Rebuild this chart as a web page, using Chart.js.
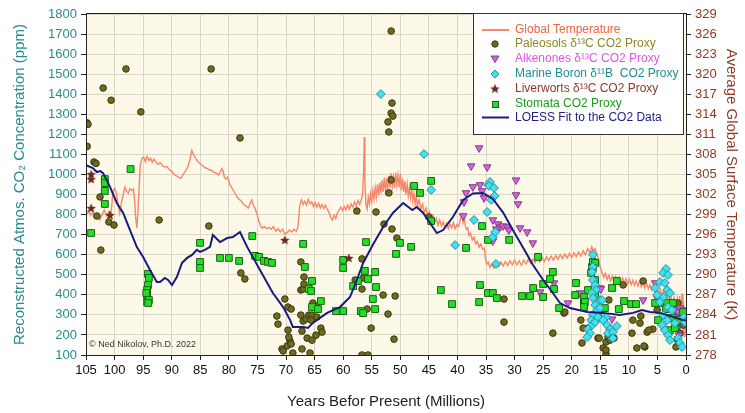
<!DOCTYPE html>
<html>
<head>
<meta charset="utf-8">
<script src="https://cdn.jsdelivr.net/npm/chart.js@4/dist/chart.umd.min.js"></script>
<style>
  html, body { margin: 0; padding: 0; background: #fff; }
  canvas { display: block; }
</style>
</head>
<body>
<canvas id="chart" width="745" height="413"></canvas>
<script>
// Global temperature (K) vs age (Myr)
const tempAge = [105.0,104.6,104.2,103.8,103.4,103.0,102.6,102.2,101.8,101.4,101.0,100.6,100.3,100.0,99.7,99.4,99.1,98.8,98.5,98.2,97.9,97.6,97.3,97.0,96.7,96.5,96.3,96.1,95.9,95.7,95.5,95.2,94.9,94.6,94.3,94.0,93.7,93.4,93.1,92.8,92.4,92.0,91.6,91.2,90.8,90.4,90.0,89.6,89.2,88.8,88.4,88.0,87.6,87.2,86.8,86.5,86.2,85.8,85.4,85.0,84.6,84.2,83.8,83.4,83.0,82.6,82.2,81.8,81.5,81.2,81.0,80.8,80.5,80.2,79.8,79.4,79.0,78.6,78.2,77.8,77.4,77.0,76.6,76.3,76.0,75.7,75.4,75.1,74.8,74.5,74.2,73.8,73.4,73.0,72.6,72.2,71.8,71.4,71.0,70.6,70.2,69.8,69.4,69.0,68.6,68.2,67.9,67.6,67.3,67.0,66.7,66.4,66.1,65.8,65.5,65.2,64.9,64.6,64.3,64.0,63.7,63.4,63.1,62.8,62.5,62.2,61.9,61.6,61.3,61.0,60.7,60.4,60.1,59.8,59.5,59.2,58.9,58.6,58.3,58.0,57.7,57.4,57.1,56.8,56.6,56.4,56.3,56.2,56.0,55.8,55.6,55.4,55.2,55.0,54.8,54.6,54.4,54.2,54.0,53.8,53.6,53.4,53.2,53.0,52.8,52.6,52.4,52.2,52.0,51.8,51.6,51.4,51.2,51.0,50.8,50.6,50.4,50.2,50.0,49.8,49.6,49.4,49.2,49.0,48.8,48.6,48.4,48.2,48.0,47.8,47.6,47.4,47.2,47.0,46.7,46.4,46.1,45.8,45.5,45.2,44.9,44.6,44.3,44.0,43.7,43.4,43.1,42.8,42.5,42.2,41.9,41.6,41.3,41.0,40.7,40.4,40.1,39.8,39.5,39.2,39.0,38.8,38.6,38.4,38.2,38.0,37.7,37.4,37.1,36.8,36.5,36.2,35.9,35.6,35.3,35.1,34.9,34.6,34.3,34.0,33.6,33.2,32.8,32.4,32.0,31.6,31.2,30.8,30.4,30.0,29.6,29.2,28.8,28.4,28.0,27.6,27.2,26.8,26.4,26.0,25.6,25.2,24.8,24.4,24.0,23.6,23.2,22.8,22.4,22.0,21.6,21.2,20.8,20.4,20.0,19.6,19.2,18.8,18.4,18.0,17.6,17.2,16.8,16.5,16.2,15.9,15.6,15.3,15.0,14.7,14.4,14.1,13.8,13.5,13.2,12.9,12.6,12.3,12.0,11.7,11.4,11.1,10.8,10.5,10.2,9.9,9.6,9.3,9.0,8.7,8.4,8.1,7.8,7.5,7.2,6.9,6.6,6.3,6.0,5.7,5.4,5.1,4.8,4.5,4.2,3.9,3.6,3.3,3.0,2.7,2.4,2.1,1.8,1.5,1.3,1.1,0.9,0.7,0.55,0.45,0.35,0.25,0.15,0.05];
const tempK = [298.8,299.6,298.9,299.4,298.4,298.7,298.2,299.0,299.7,298.8,299.5,299.1,302.4,302.9,302.3,300.6,299.2,300.8,301.9,303.1,302.5,302.2,302.9,302.6,302.8,301.2,298.5,297.0,299.5,303.2,306.4,307.4,307.6,306.9,307.7,307.1,307.4,306.8,307.3,306.9,306.5,306.8,306.3,306.1,306.2,305.7,305.5,305.0,304.8,304.6,304.4,305.0,305.5,306.1,307.3,308.6,308.0,307.4,306.9,306.6,306.3,306.0,305.9,305.7,305.6,305.3,305.2,304.9,305.4,305.9,305.5,304.6,304.3,304.6,303.4,302.9,302.3,301.7,301.3,301.0,300.5,300.3,300.0,300.6,301.2,300.4,299.9,299.1,298.2,297.4,297.0,297.2,296.9,297.1,296.8,297.2,296.5,296.9,296.4,296.8,296.1,296.3,296.7,296.4,296.8,296.5,297.2,300.3,301.2,300.5,301.0,300.4,301.3,300.6,300.9,300.2,300.8,300.1,300.7,300.0,300.5,299.9,300.4,299.8,299.4,298.6,298.2,298.9,298.4,299.3,299.7,300.1,299.6,300.2,299.7,300.4,299.8,300.6,300.1,300.9,300.3,301.1,300.5,301.3,302.0,306.0,310.6,304.0,300.4,299.8,301.6,300.6,302.1,301.0,302.6,301.3,303.0,301.6,303.5,301.9,303.8,302.2,304.1,302.4,304.5,302.6,304.0,302.9,304.8,303.0,305.2,303.2,304.6,303.0,305.3,303.4,304.9,303.1,305.1,302.6,304.4,302.4,304.0,302.0,303.6,301.8,303.0,301.5,302.8,301.0,302.2,300.6,301.8,300.2,301.2,299.8,300.6,299.2,300.0,298.8,299.4,298.3,298.9,297.8,298.4,297.4,298.2,297.3,297.9,297.0,297.7,296.9,297.6,297.0,297.8,296.9,297.5,297.2,298.2,299.0,297.8,298.6,297.2,296.8,297.0,295.9,296.2,295.2,295.6,294.6,295.0,294.1,294.6,293.8,294.0,292.5,291.6,291.9,291.1,291.6,291.0,291.7,291.2,291.9,291.3,292.0,291.4,292.1,291.5,292.2,291.5,292.1,291.4,292.2,291.6,292.3,291.7,292.3,291.8,292.5,291.9,292.6,292.0,292.7,292.1,292.8,292.2,292.9,292.3,293.0,292.4,293.1,292.5,293.2,292.6,293.3,292.7,293.4,292.8,293.6,293.0,293.9,293.3,294.2,293.6,293.9,293.0,292.4,291.0,290.4,289.6,290.2,289.3,289.9,289.1,289.8,289.0,289.7,288.9,289.6,288.8,289.5,288.7,289.4,288.6,289.3,288.5,289.2,288.4,289.1,288.3,289.0,288.2,288.9,288.0,288.7,287.9,288.5,287.7,288.3,287.4,288.1,287.0,287.8,286.8,287.5,286.4,287.2,286.0,286.9,285.6,286.6,285.0,286.4,284.2,286.8,283.0,287.2,281.8,286.0,280.8,285.2,281.0,284.5];

// LOESS fit (ppm)
const loessAge = [105.0,103.8,103.1,102.5,102.0,100.8,99.6,98.5,97.3,96.1,95.0,93.8,92.6,92.05,91.2,90.65,89.95,89.1,88.2,87.3,86.45,85.6,85.05,84.2,83.3,82.8,81.55,80.3,79.3,78.05,76.8,74.55,72.3,70.5,69.3,68.8,67.0,66.15,65.3,62.8,60.55,58.8,57.6,56.5,54.8,53.0,51.3,49.5,47.9,47.1,46.0,43.6,42.5,40.8,39.0,37.3,35.5,33.8,32.0,30.3,28.5,26.8,25.0,23.3,22.05,20.3,17.3,14.5,11.55,9.3,7.7,6.3,4.55,2.3,0.7,0.0];
const loessPpm = [1047,1032,1012,1017,1007,938,858,808,723,638,589,524,464,464,484,474,449,489,559,584,599,624,614,624,639,698,663,683,688,713,639,524,409,339,275,240,240,235,260,310,339,389,474,559,650,738,808,858,823,838,808,708,723,788,873,905,908,878,810,723,635,550,474,409,359,334,314,310,299,310,324,314,310,290,275,272];

// Paleosols d13C proxy
const paleoAge = [104.8,104.65,104.8,103.6,103.25,102.0,100.6,98.0,95.4,83.1,78.05,102.55,103.1,101.0,100.1,102.4,92.2,83.5,77.9,77.2,51.6,51.45,51.6,51.3,52.15,52.0,51.6,52.0,71.6,71.4,70.7,69.8,69.3,68.8,70.2,69.65,69.1,69.65,69.5,69.1,70.5,67.4,67.4,67.0,66.85,66.85,67.4,67.0,66.5,66.0,65.45,65.6,65.3,64.75,64.6,67.2,66.3,65.45,64.75,63.9,63.7,67.2,65.8,57.6,54.25,52.85,51.45,50.6,56.7,57.9,56.7,56.5,55.8,55.1,56.7,55.65,53.0,52.15,50.9,51.1,45.0,31.85,31.85,23.3,21.35,18.4,18.2,17.15,15.4,14.5,14.0,14.0,13.65,13.3,13.5,11.0,9.45,9.3,8.6,7.5,7.2,6.8,5.8,3.3,18.0,12.6,15.2,13.3,14.0,7.9,8.05,7.35,6.5,5.05,1.4,1.55,1.05,1.55,1.4,1.75,0.5,1.4,21.2];
const paleoPpm = [1257,1250,1140,1062,1055,1431,1370,1526,1312,1526,1182,888,793,763,748,623,773,743,509,479,1715,1356,1306,1291,1262,1212,973,908,294,254,130,145,170,110,379,339,329,224,189,155,120,564,424,429,454,489,299,269,279,299,299,274,359,344,289,219,184,174,199,234,214,130,110,818,813,753,728,683,579,474,429,484,329,234,100,100,399,304,394,179,788,379,264,209,309,274,160,234,184,135,105,165,190,224,374,449,209,274,135,469,140,214,229,339,234,184,184,174,125,294,259,145,224,324,359,239,209,179,150,140,249,274,314];

// Alkenones d13C proxy
const alkAge = [36.2,37.6,34.8,29.75,37.3,36.05,35.7,38.5,35.35,38.85,29.75,29.4,39.0,33.8,32.9,32.55,32.0,33.2,31.3,31.0,29.05,27.8,26.8,33.8,25.55,23.1,20.65,15.05,7.5,18.55,14.9,12.95,5.4,5.05,1.95,1.05,0.35,1.4,0.7,1.2,1.55];
const alkPpm = [1132,1042,1037,972,938,948,918,908,883,863,898,853,793,773,753,738,743,728,738,723,733,713,658,668,414,459,359,434,374,409,429,279,459,384,324,334,324,314,294,199,234];

// Marine boron d11B proxy
const boronAge = [53.4,45.85,44.6,40.4,37.1,34.8,34.6,34.3,34.45,33.6,33.5,34.1,33.8,33.4,33.25,16.3,16.3,16.45,16.3,15.9,15.75,16.45,16.3,15.05,15.9,15.55,16.3,16.6,16.45,17.15,16.8,17.3,15.9,15.4,14.0,14.5,13.8,13.3,13.65,12.8,12.1,12.8,15.05,14.7,3.5,4.0,3.15,4.55,5.4,3.7,3.3,2.8,4.0,4.55,3.15,2.45,4.0,3.3,4.2,3.7,3.15,2.8,1.95,1.4,1.05,0.7,0.35,0.2,5.05];
const boronPpm = [1401,1102,923,648,773,813,948,963,943,933,893,873,688,713,554,600,539,514,474,449,424,409,384,374,349,324,299,274,249,229,209,189,264,289,289,274,249,229,209,214,244,184,334,374,529,509,499,464,434,459,424,409,389,364,339,324,299,274,249,224,199,174,259,184,160,140,289,264,399];

// Liverworts d13C proxy
const liverAge = [104.1,104.1,104.1,100.8,70.2,59.0];
const liverPpm = [1002,977,833,798,674,584];

// Stomata proxy
const stomAge = [97.2,101.7,101.7,101.7,101.7,104.1,94.15,94.0,94.15,94.3,94.3,94.3,94.45,94.0,94.1,85.05,85.05,85.05,81.55,80.0,78.2,75.9,75.4,74.7,73.85,73.15,72.45,67.0,66.7,65.45,66.0,65.6,63.9,65.45,64.4,61.25,60.0,60.0,60.0,58.25,57.4,56.2,55.65,56.9,56.5,56.0,54.4,54.25,54.8,54.4,50.75,50.05,48.1,44.6,42.9,40.95,38.5,47.6,46.55,44.6,35.7,34.65,30.95,25.9,36.05,36.2,34.65,33.8,33.1,28.7,27.3,25.0,25.0,26.75,23.3,23.8,23.1,22.2,19.25,17.85,17.15,16.45,16.3,19.4,17.85,17.7,17.85,15.9,16.3,16.6,15.9,15.9,15.55,15.4,14.2,12.95,12.1,11.75,10.85,9.6,8.75,5.4,4.9,4.2,3.3,2.3,3.5,3.15,2.3,1.4,2.8,1.95,0.5];
const stomPpm = [1027,977,957,918,853,708,504,484,449,424,399,364,409,374,359,659,564,534,584,584,569,693,594,589,569,564,559,654,539,469,429,419,369,339,329,319,319,574,534,444,469,519,479,319,309,663,514,439,379,329,604,659,639,768,424,354,634,943,908,968,743,674,674,589,449,364,409,409,384,394,394,454,389,434,514,479,429,334,459,364,424,539,564,399,389,364,339,559,534,509,474,399,289,314,334,434,469,329,369,354,354,359,274,359,359,359,329,284,284,274,224,234,314];

const family = "'Liberation Sans', Arial, Helvetica, sans-serif";
Chart.defaults.font.family = family;

const pts = (xs, ys) => xs.map((x, i) => ({ x: x, y: ys[i] }));

// filled five-point star marker for the liverworts
function makeStar(size, color) {
    const c = document.createElement("canvas");
    c.width = size;
    c.height = size;
    const g = c.getContext("2d");
    const r = size / 2, ri = r * 0.45;
    g.beginPath();
    for (let i = 0; i < 10; i++) {
        const a = -Math.PI / 2 + i * Math.PI / 5;
        const rr = i % 2 ? ri : r;
        g.lineTo(r + rr * Math.cos(a), r + rr * Math.sin(a) + 0.5);
    }
    g.closePath();
    g.fillStyle = color;
    g.fill();
    return c;
}
const starImg = makeStar(10, "#6E2A1C");

const colors = {
    temp: "#F7866B",
    paleoFill: "#6E6A1E", paleoLine: "#3A3812",
    alkFill: "#D862D8", alkLine: "#833A8F",
    boronFill: "#3FE2EE", boronLine: "#2C8C9C",
    liver: "#6E2A1C",
    stomFill: "#22E022", stomLine: "#1D5E1D",
    loess: "#1B1B7D",
    leftAxis: "#2A8A8C",
    rightAxis: "#8E3A24",
};

const legendItems = [
    { text: "Global Temperature", color: "#F0643F", mark: "line", stroke: colors.temp },
    { text: "Paleosols \u03B4\u00B9\u00B3C CO2 Proxy", color: "#8A8626", mark: "circle" },
    { text: "Alkenones \u03B4\u00B9\u00B3C CO2 Proxy", color: "#E055E0", mark: "tri" },
    { text: "Marine Boron \u03B4\u00B9\u00B9B  CO2 Proxy", color: "#1F8C98", mark: "diamond" },
    { text: "Liverworts \u03B4\u00B9\u00B3C CO2 Proxy", color: "#8B3A28", mark: "star" },
    { text: "Stomata CO2 Proxy", color: "#1E9A1E", mark: "square" },
    { text: "LOESS Fit to the CO2 Data", color: "#23237F", mark: "line", stroke: colors.loess },
];

const decorPlugin = {
    id: "decor",
    beforeDraw(chart) {
        const { ctx, chartArea: a } = chart;
        ctx.save();
        ctx.fillStyle = "#FCF9E9";
        ctx.fillRect(a.left, a.top, a.right - a.left, a.bottom - a.top);
        ctx.restore();
    },
    afterDraw(chart) {
        const { ctx, chartArea: a } = chart;
        ctx.save();
        // plot frame
        ctx.strokeStyle = "#222";
        ctx.lineWidth = 1;
        ctx.strokeRect(Math.round(a.left) + 0.5, Math.round(a.top) - 0.5, Math.round(a.right - a.left), Math.round(a.bottom - a.top) + 1);

        // credit
        ctx.fillStyle = "#333";
        ctx.font = "9px " + family;
        ctx.textBaseline = "middle";
        ctx.fillText("\u00A9 Ned Nikolov, Ph.D. 2022", a.left + 3, 345);

        // legend box
        const bx = 473, by = 13, bw = 210, bh = 121;
        ctx.fillStyle = "#fff";
        ctx.fillRect(bx, by, bw, bh);
        ctx.strokeStyle = "#333";
        ctx.strokeRect(bx + 0.5, by + 0.5, bw, bh);
        const rows = [30, 44, 59, 74, 89, 104, 117.5];
        ctx.font = "12px " + family;
        legendItems.forEach((it, i) => {
            const y = rows[i], mx = 495;
            ctx.lineWidth = 1;
            if (it.mark === "line") {
                ctx.strokeStyle = it.stroke;
                ctx.lineWidth = 2;
                ctx.beginPath();
                ctx.moveTo(482, y);
                ctx.lineTo(509, y);
                ctx.stroke();
            } else if (it.mark === "circle") {
                ctx.fillStyle = colors.paleoFill;
                ctx.strokeStyle = colors.paleoLine;
                ctx.beginPath();
                ctx.arc(mx, y, 3.2, 0, Math.PI * 2);
                ctx.fill();
                ctx.stroke();
            } else if (it.mark === "tri") {
                ctx.fillStyle = colors.alkFill;
                ctx.strokeStyle = colors.alkLine;
                ctx.beginPath();
                ctx.moveTo(mx - 4, y - 3);
                ctx.lineTo(mx + 4, y - 3);
                ctx.lineTo(mx, y + 3.5);
                ctx.closePath();
                ctx.fill();
                ctx.stroke();
            } else if (it.mark === "diamond") {
                ctx.fillStyle = colors.boronFill;
                ctx.strokeStyle = colors.boronLine;
                ctx.beginPath();
                ctx.moveTo(mx, y - 4);
                ctx.lineTo(mx + 4, y);
                ctx.lineTo(mx, y + 4);
                ctx.lineTo(mx - 4, y);
                ctx.closePath();
                ctx.fill();
                ctx.stroke();
            } else if (it.mark === "star") {
                ctx.drawImage(starImg, mx - 5, y - 5.5, 10, 10);
            } else if (it.mark === "square") {
                ctx.fillStyle = colors.stomFill;
                ctx.strokeStyle = colors.stomLine;
                ctx.fillRect(mx - 3, y - 3, 6, 6);
                ctx.strokeRect(mx - 3 + 0.5, y - 3 + 0.5, 6, 6);
            }
            ctx.fillStyle = it.color;
            ctx.textBaseline = "middle";
            ctx.fillText(it.text, 515, y);
        });
        ctx.restore();
    },
};

new Chart(document.getElementById("chart"), {
    type: "scatter",
    data: {
        datasets: [
            {
                label: "LOESS Fit to the CO2 Data",
                data: pts(loessAge, loessPpm),
                yAxisID: "y",
                showLine: true,
                pointRadius: 0,
                borderColor: colors.loess,
                borderWidth: 2,
                order: 0,
            },
            {
                label: "Liverworts",
                data: pts(liverAge, liverPpm),
                yAxisID: "y",
                pointStyle: starImg,
                order: 1,
            },
            {
                label: "Marine Boron",
                data: pts(boronAge, boronPpm),
                yAxisID: "y",
                pointStyle: "rectRot",
                pointRadius: 4.4,
                backgroundColor: colors.boronFill,
                borderColor: colors.boronLine,
                borderWidth: 1,
                order: 2,
            },
            {
                label: "Stomata",
                data: pts(stomAge, stomPpm),
                yAxisID: "y",
                pointStyle: "rect",
                pointRadius: 4.8,
                backgroundColor: colors.stomFill,
                borderColor: colors.stomLine,
                borderWidth: 1,
                order: 3,
            },
            {
                label: "Alkenones",
                data: pts(alkAge, alkPpm),
                yAxisID: "y",
                pointStyle: "triangle",
                pointRotation: 180,
                pointRadius: 4.4,
                backgroundColor: colors.alkFill,
                borderColor: colors.alkLine,
                borderWidth: 1,
                order: 4,
            },
            {
                label: "Paleosols",
                data: pts(paleoAge, paleoPpm),
                yAxisID: "y",
                pointStyle: "circle",
                pointRadius: 3.3,
                backgroundColor: colors.paleoFill,
                borderColor: colors.paleoLine,
                borderWidth: 1,
                order: 5,
            },
            {
                label: "Global Temperature",
                data: pts(tempAge, tempK),
                yAxisID: "y2",
                showLine: true,
                pointRadius: 0,
                borderColor: colors.temp,
                borderWidth: 1.4,
                order: 10,
            },
        ],
    },
    options: {
        responsive: false,
        devicePixelRatio: 1,
        animation: false,
        events: [],
        layout: { padding: { top: 14, left: 0, right: 0, bottom: 0 } },
        plugins: { legend: { display: false }, tooltip: { enabled: false } },
        scales: {
            x: {
                type: "linear",
                reverse: true,
                min: 0,
                max: 105,
                ticks: { stepSize: 5, color: "#111", font: { size: 13 }, padding: 3, maxRotation: 0, autoSkip: false },
                grid: { color: "#D9D6C6", tickColor: "#222", tickLength: 5 },
                border: { color: "#222" },
                title: { display: true, text: "Years Befor Present (Millions)", color: "#222", font: { size: 15 }, padding: { top: 0, bottom: 2 } },
                afterFit: (s) => { s.height = 58; },
            },
            y: {
                position: "left",
                min: 100,
                max: 1800,
                ticks: { stepSize: 100, color: colors.leftAxis, font: { size: 13 }, padding: 4, format: { useGrouping: false } },
                grid: { color: "#D9D6C6", tickColor: "#222", tickLength: 5 },
                border: { color: "#222" },
                title: { display: true, text: "Reconstructed Atmos. CO\u2082 Concentration (ppm)", color: colors.leftAxis, font: { size: 15 }, padding: { top: 11, bottom: 0 } },
                afterFit: (s) => { s.width = 86; },
            },
            y2: {
                position: "right",
                min: 278,
                max: 329,
                ticks: { stepSize: 3, color: colors.rightAxis, font: { size: 13 }, padding: 4 },
                grid: { drawOnChartArea: false, tickColor: "#222", tickLength: 5 },
                border: { color: "#222" },
                title: { display: true, text: "Average Global Surface Temperature (K)", color: colors.rightAxis, font: { size: 15 }, padding: { top: 5, bottom: 0 } },
                afterFit: (s) => { s.width = 59; },
            },
        },
    },
    plugins: [decorPlugin],
});
</script>
</body>
</html>
